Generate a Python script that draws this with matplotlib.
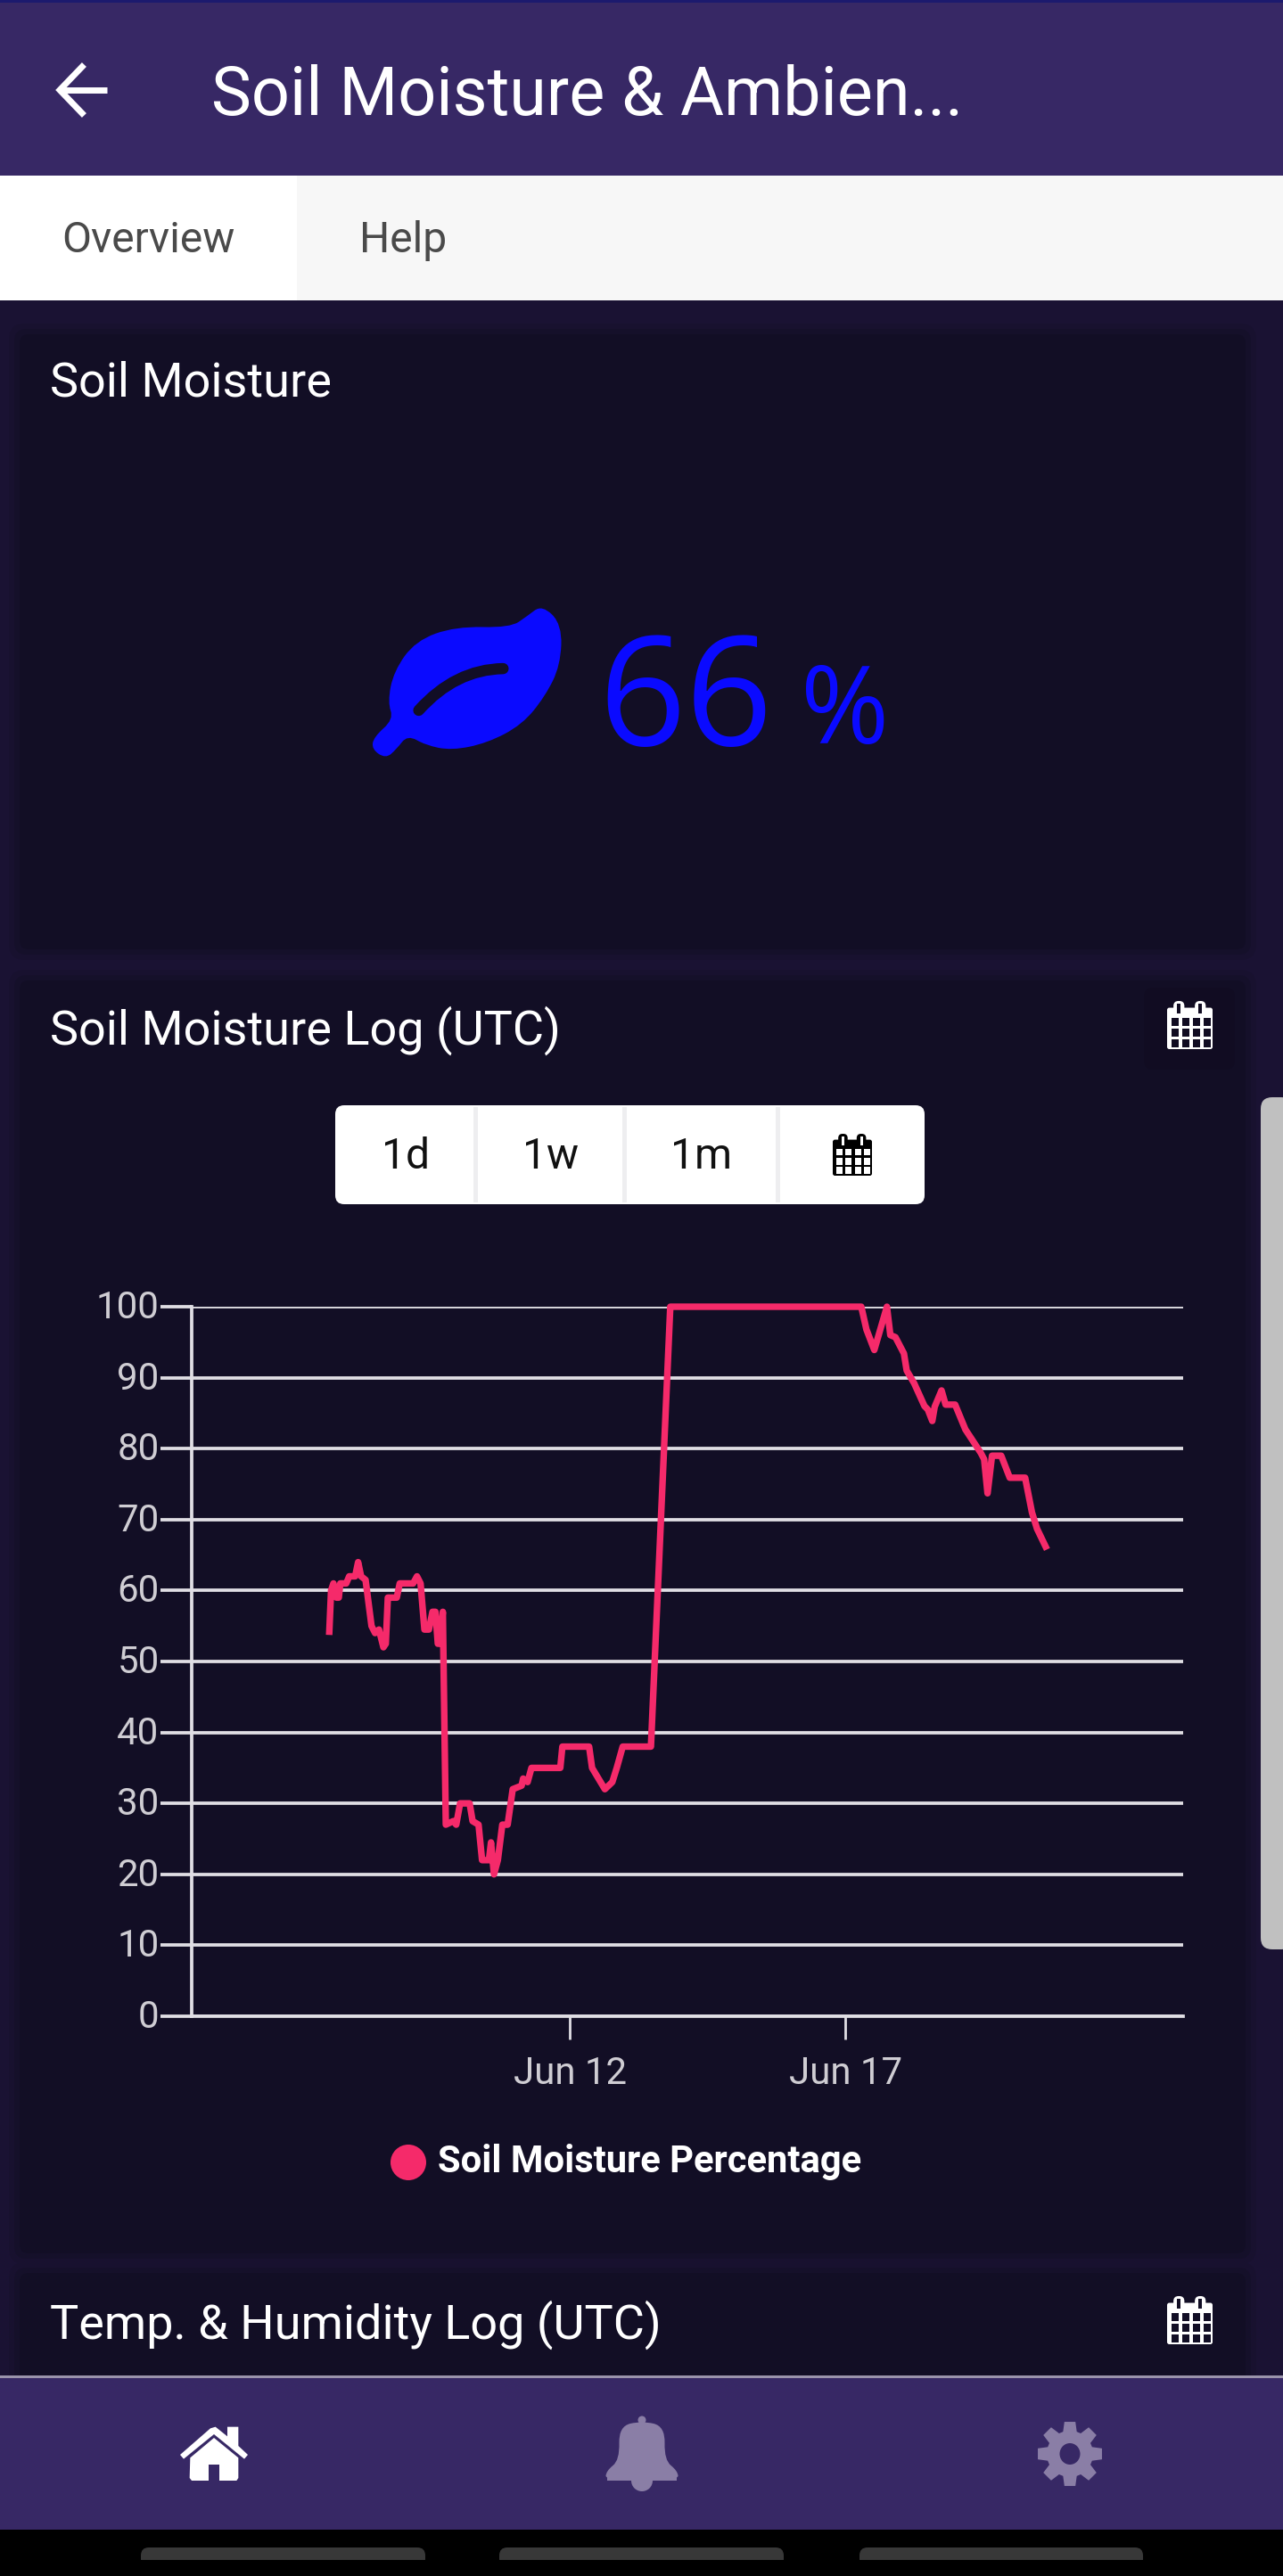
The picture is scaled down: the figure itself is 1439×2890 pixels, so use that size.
import numpy as np
import matplotlib
matplotlib.use("Agg")
import matplotlib.pyplot as plt
from matplotlib.patches import Rectangle, FancyBboxPatch, PathPatch, Circle, Polygon, Ellipse
from matplotlib.path import Path
from matplotlib.transforms import ScaledTranslation

plt.rcParams["font.family"] = ["Roboto", "DejaVu Sans"]

# soil moisture log, x is the day of June
soil_days = [7.637, 7.669, 7.712, 7.766, 7.809, 7.836, 7.944, 7.998, 8.106, 8.160, 8.214, 8.295,
             8.403, 8.468, 8.538, 8.619, 8.662, 8.699, 8.861, 8.915, 9.158, 9.228, 9.293, 9.363,
             9.444, 9.509, 9.563, 9.606, 9.643, 9.697, 9.751, 9.886, 9.940, 10.010, 10.183, 10.237,
             10.345, 10.409, 10.533, 10.571, 10.625, 10.695, 10.776, 10.873, 10.965, 11.127, 11.154,
             11.235, 11.305, 11.828, 11.866, 12.351, 12.405, 12.637, 12.772, 12.853, 12.961, 13.473,
             13.824, 17.290, 17.383, 17.526, 17.755, 17.817, 17.910, 18.064, 18.114, 18.250, 18.436,
             18.498, 18.578, 18.622, 18.746, 18.820, 18.993, 19.179, 19.458, 19.519, 19.581, 19.662,
             19.829, 19.984, 20.263, 20.387, 20.479, 20.634]
soil_values = [54.2, 60, 61, 59, 59, 61, 61, 62, 62, 64, 62, 61.5,
               55, 54, 54.5, 52, 52.5, 59, 59, 61, 61, 62, 61, 54.5,
               54.5, 57, 57, 52.5, 52.5, 57, 27, 27.5, 27, 30, 30, 27.5,
               27, 22, 22, 24.5, 20, 22, 27, 27, 32, 32.5, 33.5,
               33, 35, 35, 38, 38, 35, 32, 33, 35, 38, 38,
               100, 100, 96.8, 93.9, 100, 96, 95.7, 93.4, 91, 89.2, 86,
               85.5, 83.9, 85.9, 88.2, 86.2, 86.2, 82.7, 79.4, 78.5, 73.7, 79,
               79, 75.9, 75.9, 71, 68.7, 66.2]
y_ticks = [0, 10, 20, 30, 40, 50, 60, 70, 80, 90, 100]
x_ticks = [12, 17]
x_tick_labels = ["Jun 12", "Jun 17"]
range_buttons = ["1d", "1w", "1m"]
moisture_now = "66"
series_name = "Soil Moisture Percentage"

W, H = 1439, 2890
PURPLE = "#372865"
GUTTER = "#1a1233"
CARD = "#120e25"
PINK = "#f52a6a"
GRID = "#e0dee4"
MUTED = "#8a7ea6"
BLUE = "#0a0aff"


def fs(px):
    # font size from pixels
    return px * 0.72


def smooth(points):
    # closed smooth outline through the midpoints
    pts = np.array(points, dtype=float)
    mids = (pts + np.roll(pts, -1, axis=0)) / 2
    verts = [mids[-1]]
    codes = [Path.MOVETO]
    for p, m in zip(pts, mids):
        verts += [p, m]
        codes += [Path.CURVE3, Path.CURVE3]
    return Path(verts, codes)


def rrect(ax, x0, y0, x1, y1, r, color, z=1):
    ax.add_patch(FancyBboxPatch((x0 + r, y0 + r), x1 - x0 - 2 * r, y1 - y0 - 2 * r,
                                boxstyle=f"round,pad={r},rounding_size={r}",
                                fc=color, ec="none", zorder=z))


def calendar(ax, x0, x1, y0, y1, fg, bg, z=6):
    w = x1 - x0
    h = y1 - y0
    top = y0 + h * 0.14
    rrect(ax, x0, top, x1, y1, 2.5, fg, z)
    for cx in (x0 + w * 0.26, x0 + w * 0.73):
        rrect(ax, cx - w * 0.12, y0, cx + w * 0.12, top + 8, w * 0.11, fg, z)
        ax.add_patch(Rectangle((cx - w * 0.035, y0 + 3), w * 0.07, h * 0.21, fc=bg, ec="none", zorder=z + 1))
    cw = w * 0.16
    pitch_x = w * 0.235
    for i in range(4):
        for j in range(3):
            ax.add_patch(Rectangle((x0 + w * 0.09 + i * pitch_x, y0 + h * 0.355 + j * h * 0.22),
                                   cw, h * 0.165, fc=bg, ec="none", zorder=z + 1))


fig = plt.figure(figsize=(W / 100, H / 100), dpi=100, facecolor=GUTTER)

# screen furniture in pixel coordinates
ui = fig.add_axes([0, 0, 1, 1], zorder=1)
ui.set_xlim(0, W)
ui.set_ylim(H, 0)
ui.axis("off")

for x0, y0, x1, y1 in [(22, 375, 1397, 1065), (22, 1100, 1397, 2528), (22, 2550, 1397, 2700)]:
    rrect(ui, x0 - 12, y0 - 12, x1 + 12, y1 + 12, 18, "#18112f", 1)
    rrect(ui, x0 - 6, y0 - 6, x1 + 6, y1 + 6, 14, "#15102a", 1.05)
    rrect(ui, x0, y0, x1, y1, 10, CARD, 1.1)

ui.add_patch(Rectangle((0, 0), W, 197, fc=PURPLE, ec="none", zorder=3))
ui.add_patch(Rectangle((0, 0), W, 3, fc="#1c1a6e", ec="none", zorder=3.1))
ui.add_patch(Rectangle((0, 197), W, 140, fc="#f7f7f7", ec="none", zorder=3))
ui.add_patch(Rectangle((0, 197), 333, 140, fc="white", ec="none", zorder=3.1))

# back arrow
ui.plot([67, 120], [101, 101], color="white", lw=5, solid_capstyle="butt", zorder=4)
ui.plot([92, 67, 92], [75, 101, 127], color="white", lw=5, solid_joinstyle="miter", zorder=4)

ui.text(237, 108, "Soil Moisture & Ambien...", color="white", fontsize=fs(75.5), va="center", zorder=4)
ui.text(69, 270, "Overview", color="#4a4a4a", fontsize=fs(48), va="center", zorder=4)
ui.text(403, 270, "Help", color="#4a4a4a", fontsize=fs(48), va="center", zorder=4)
ui.text(56, 430, "Soil Moisture", color="white", fontsize=fs(54), va="center", zorder=4)
ui.text(56, 1156, "Soil Moisture Log (UTC)", color="white", fontsize=fs(54), va="center", zorder=4)
ui.text(56, 2608, "Temp. & Humidity Log (UTC)", color="white", fontsize=fs(54), va="center", zorder=4)

# leaf
zx = lambda v: 350 + v / 2.24
zy = lambda v: 650 + v / 2.178
leaf = [(578, 62), (628, 110), (624, 210), (586, 285), (528, 355), (440, 400), (350, 418), (285, 405),
        (240, 380), (212, 415), (185, 438), (150, 415), (155, 385), (205, 342), (190, 300), (205, 225),
        (260, 150), (360, 115), (498, 118), (540, 90)]
ui.add_patch(PathPatch(smooth([(zx(a), zy(b)) for a, b in leaf]), fc=BLUE, ec="none", zorder=4))
vein = Path([(zx(268), zy(320)), (zx(360), zy(220)), (zx(480), zy(218))], [Path.MOVETO, Path.CURVE3, Path.CURVE3])
ui.add_patch(PathPatch(vein, fc="none", ec=CARD, lw=9, capstyle="round", zorder=5))

ui.text(671, 836, moisture_now, color=BLUE, fontsize=fs(171), family="Open Sans", va="baseline", zorder=4)
ui.text(898, 834, "%", color=BLUE, fontsize=fs(120), family="Open Sans", va="baseline", zorder=4)

# top right calendar buttons
rrect(ui, 1283, 1108, 1385, 1200, 10, "#110c22", 2)
calendar(ui, 1309, 1360, 1123, 1177, "white", "#110c22")
calendar(ui, 1309, 1360, 2576, 2630, "white", CARD)

# range selector
rrect(ui, 376, 1240, 1037, 1351, 10, "white", 3)
for sx in (533, 700, 872):
    ui.add_patch(Rectangle((sx - 2.5, 1242), 5, 107, fc="#eeeef0", ec="none", zorder=3.2))
for label, cx in zip(range_buttons, (455, 618, 787)):
    ui.text(cx, 1298, label, color="#111111", fontsize=fs(48), ha="center", va="center", zorder=4)
calendar(ui, 934, 978, 1272, 1319, "black", "white")

# legend
ui.add_patch(Circle((458, 2426), 20, fc=PINK, ec="none", zorder=4))
ui.text(491, 2425, series_name, color="white", fontsize=fs(41.8), fontweight="bold", va="center", zorder=4)

# scrollbar
rrect(ui, 1414, 1231, 1450, 2187, 13, "#c0c0c0", 7)

# bottom navigation and system bar
ui.add_patch(Rectangle((0, 2668), W, 170, fc=PURPLE, ec="none", zorder=8))
ui.add_patch(Rectangle((0, 2665), W, 3, fc="#9a93ab", ec="none", zorder=8))
ui.add_patch(Rectangle((0, 2838), W, 52, fc="black", ec="none", zorder=8))
for x0, x1 in [(158, 477), (560, 879), (964, 1282)]:
    rrect(ui, x0, 2858, x1, 2880, 9, "#383838", 8.1)
ui.add_patch(Rectangle((0, 2872), W, 18, fc="black", ec="none", zorder=8.2))

# home icon
hx = lambda v: 160 + v / 3
hy = lambda v: 2680 + v / 3
ui.add_patch(Polygon([(hx(a), hy(b)) for a, b in [(160, 232), (240, 165), (322, 232), (322, 300), (316, 309), (258, 309),
                                                  (258, 255), (222, 255), (222, 309), (165, 309), (158, 300)]],
                     fc="white", ec="none", zorder=9))
ui.add_patch(Polygon([(hx(a), hy(b)) for a, b in [(126, 222), (228, 133), (245, 128), (285, 160), (285, 128), (322, 128),
                                                  (322, 192), (354, 222), (342, 236), (240, 153), (138, 236)]],
                     fc="white", ec="none", zorder=9))

# bell icon
bell = [(720, 2716), (746, 2722), (745, 2760), (760, 2772), (761, 2783), (679, 2783), (680, 2772), (695, 2760), (694, 2722)]
ui.add_patch(Circle((720, 2715), 4.5, fc=MUTED, ec="none", zorder=9))
ui.add_patch(PathPatch(smooth(bell), fc=MUTED, ec="none", zorder=9))
ui.add_patch(Rectangle((681, 2775), 78, 8, fc=MUTED, ec="none", zorder=9))
ui.add_patch(Circle((720, 2783), 12, fc=MUTED, ec="none", zorder=9))

# gear icon
angles = np.deg2rad(np.arange(0, 360, 45))
teeth = []
for a in angles:
    for da, r in [(-0.30, 26), (-0.17, 36.5), (0.17, 36.5), (0.30, 26)]:
        teeth.append((1200 + r * np.cos(a + da), 2753 + r * np.sin(a + da)))
ui.add_patch(Polygon(teeth, fc=MUTED, ec="none", zorder=9))
ui.add_patch(Ellipse((1200, 2753), 23, 24, fc=PURPLE, ec="none", zorder=9.1))

# the chart itself
left, right, top, bottom = 215, 1327, 1466, 2262
ax = fig.add_axes([left / W, 1 - bottom / H, (right - left) / W, (bottom - top) / H], zorder=2)
ax.patch.set_alpha(0)
ax.set_xlim(5.14, 23.13)
ax.set_ylim(0, 100)
ax.plot(soil_days, soil_values, color=PINK, lw=5.3, solid_joinstyle="round", clip_on=False, zorder=5)
ax.set_yticks(y_ticks)
ax.set_xticks(x_ticks)
ax.set_xticklabels(x_tick_labels)
ax.grid(axis="y", color=GRID, lw=2.7, zorder=1)
ax.set_axisbelow(True)
for side in ("top", "right"):
    ax.spines[side].set_visible(False)
for side in ("left", "bottom"):
    ax.spines[side].set_color(GRID)
    ax.spines[side].set_linewidth(2.7)
ax.tick_params(axis="y", length=fs(35), width=2.7, color=GRID, labelcolor="#cfcdd3", labelsize=fs(42), pad=1)
ax.tick_params(axis="x", length=fs(26), width=2.0, color=GRID, labelcolor="#cfcdd3", labelsize=fs(42), pad=fs(18))
# y labels sit a little above their lines
lift = ScaledTranslation(0, 3 / 100, fig.dpi_scale_trans)
for lbl in ax.get_yticklabels():
    lbl.set_transform(lbl.get_transform() + lift)

fig.savefig("out.png", dpi=100, facecolor=GUTTER)
plt.close(fig)
